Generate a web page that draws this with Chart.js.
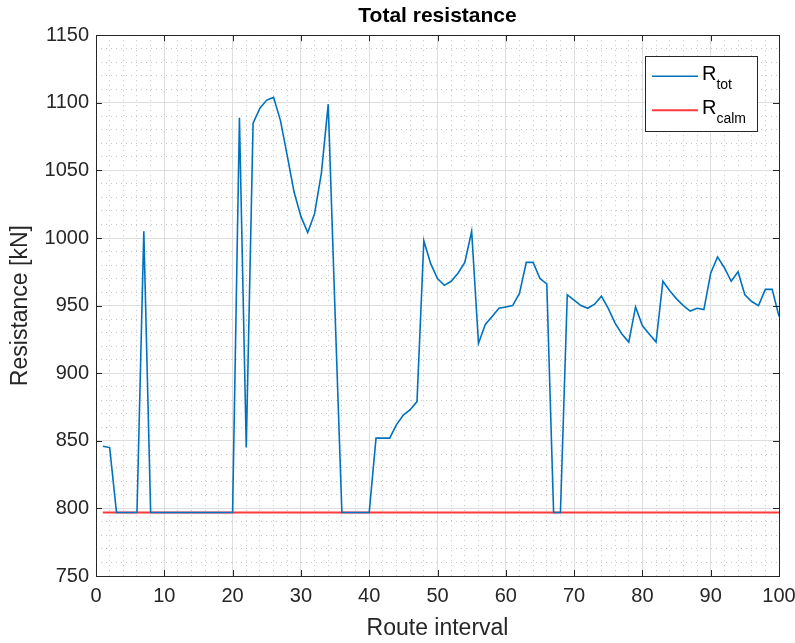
<!DOCTYPE html>
<html>
<head>
  <script src="https://cdn.jsdelivr.net/npm/chart.js"></script>
  <style>
    body { margin: 0; background: #fff; }
    canvas { display: block; }
  </style>
</head>
<body>
  <canvas id="resChart" width="795" height="643"></canvas>

  <script>
    // Route intervals (x) and total resistance
    var routeInterval = [1, 2, 3, 4, 5, 6, 7, 8, 9, 10, 11, 12, 13, 14, 15, 16, 17, 18, 19, 20,
      21, 22, 23, 24, 25, 26, 27, 28, 29, 30, 31, 32, 33, 34, 35, 36, 37, 38, 39, 40,
      41, 42, 43, 44, 45, 46, 47, 48, 49, 50, 51, 52, 53, 54, 55, 56, 57, 58, 59, 60,
      61, 62, 63, 64, 65, 66, 67, 68, 69, 70, 71, 72, 73, 74, 75, 76, 77, 78, 79, 80,
      81, 82, 83, 84, 85, 86, 87, 88, 89, 90, 91, 92, 93, 94, 95, 96, 97, 98, 99, 100];

    var rTot = [846, 845, 797, 797, 797, 797, 1005, 797, 797, 797, 797, 797, 797, 797, 797, 797, 797, 797, 797, 797,
      1089, 845, 1085, 1096, 1102, 1104, 1087, 1061, 1034, 1016, 1004, 1018, 1048, 1099, 945, 797, 797, 797, 797, 797,
      852, 852, 852, 862, 869, 873, 879, 998, 981, 970, 965, 968, 974, 982, 1005, 922, 936, 942, 948, 949,
      950, 959, 982, 982, 970, 966, 797, 797, 958, 954, 950, 948, 951, 957, 948, 937, 929, 923, 949, 935,
      929, 923, 968, 961, 955, 950, 946, 948, 947, 974, 986, 978, 968, 975, 958, 953, 950, 962, 962, 942];

    // Calm water resistance (constant)
    var calmX = [1, 100];
    var rCalm = [797, 797];

    var textColor = '#262626';
    var fontFamily = "'Liberation Sans', Arial, Helvetica, sans-serif";

    function toPoints(xs, ys) {
      return xs.map(function(x, i) { return { x: x, y: ys[i] }; });
    }

    // Box around the axes with inward major ticks, like MATLAB
    var axesBox = {
      id: 'axesBox',
      afterDraw: function(chart) {
        var ctx = chart.ctx;
        var a = chart.chartArea;
        var xs = chart.scales.x, ys = chart.scales.y;
        var tl = 6;
        ctx.save();
        ctx.strokeStyle = textColor;
        ctx.lineWidth = 1;
        ctx.beginPath();
        xs.ticks.forEach(function(t) {
          if (t.value % 10 !== 0) return;
          var px = Math.round(xs.getPixelForValue(t.value)) + 0.5;
          ctx.moveTo(px, a.bottom); ctx.lineTo(px, a.bottom - tl);
          ctx.moveTo(px, a.top); ctx.lineTo(px, a.top + tl);
        });
        ys.ticks.forEach(function(t) {
          if (t.value % 50 !== 0) return;
          var py = Math.round(ys.getPixelForValue(t.value)) + 0.5;
          ctx.moveTo(a.left, py); ctx.lineTo(a.left + tl, py);
          ctx.moveTo(a.right, py); ctx.lineTo(a.right - tl, py);
        });
        ctx.stroke();
        ctx.strokeRect(Math.round(a.left) + 0.5, Math.round(a.top) + 0.5,
          Math.round(a.right - a.left), Math.round(a.bottom - a.top));
        ctx.restore();
      }
    };

    // Legend box with subscripted names (R_tot, R_calm)
    var subLegend = {
      id: 'subLegend',
      afterDraw: function(chart) {
        var ctx = chart.ctx;
        var a = chart.chartArea;
        var w = 112, h = 75;
        var left = a.right - 22 - w;
        var top = a.top + 21;
        ctx.save();
        ctx.fillStyle = '#fff';
        ctx.fillRect(left, top, w, h);
        ctx.strokeStyle = textColor;
        ctx.lineWidth = 1;
        ctx.strokeRect(Math.round(left) + 0.5, Math.round(top) + 0.5, w, h);
        chart.data.datasets.forEach(function(ds, i) {
          var ly = top + 20 + i * 34;
          ctx.strokeStyle = ds.borderColor;
          ctx.lineWidth = ds.borderWidth;
          ctx.beginPath();
          ctx.moveTo(left + 7, ly);
          ctx.lineTo(left + 53, ly);
          ctx.stroke();
          var parts = ds.label.split('_');
          ctx.fillStyle = '#000';
          ctx.textBaseline = 'alphabetic';
          ctx.textAlign = 'left';
          ctx.font = '20px ' + fontFamily;
          ctx.fillText(parts[0], left + 57, ly + 3.5);
          var rw = ctx.measureText(parts[0]).width;
          ctx.font = '14px ' + fontFamily;
          ctx.fillText(parts[1], left + 57 + rw, ly + 13);
        });
        ctx.restore();
      }
    };

    var config = {
      type: 'line',
      data: {
        datasets: [{
          label: 'R_tot',
          data: toPoints(routeInterval, rTot),
          borderColor: '#0072BD',
          borderWidth: 1.6,
          pointRadius: 0,
          tension: 0,
          fill: false
        }, {
          label: 'R_calm',
          data: toPoints(calmX, rCalm),
          borderColor: '#ff3a3a',
          borderWidth: 2,
          pointRadius: 0,
          tension: 0,
          fill: false
        }]
      },
      options: {
        responsive: false,
        animation: false,
        devicePixelRatio: 1,
        layout: { padding: { left: 0, right: 16, top: 0, bottom: 0 } },
        plugins: {
          legend: { display: false },
          tooltip: { enabled: false },
          title: {
            display: true,
            fullSize: false,
            text: 'Total resistance',
            color: '#000',
            font: { family: fontFamily, size: 21, weight: 'bold' },
            padding: { top: 4, bottom: 6 }
          }
        },
        scales: {
          x: {
            type: 'linear',
            min: 0,
            max: 100,
            afterFit: function(s) { s.height = 67; s.paddingLeft = 0; s.paddingRight = 0; },
            ticks: {
              stepSize: 2,
              autoSkip: false,
              maxRotation: 0,
              padding: 8,
              color: textColor,
              font: { family: fontFamily, size: 20 },
              callback: function(v) { return v % 10 === 0 ? String(v) : ''; }
            },
            grid: {
              drawTicks: false,
              color: function(c) { return c.tick && c.tick.value % 10 === 0 ? '#dedede' : '#c4c4c4'; }
            },
            border: {
              display: false,
              dash: function(c) { return c.tick && c.tick.value % 10 !== 0 ? [1, 4] : []; }
            },
            title: {
              display: true,
              text: 'Route interval',
              color: textColor,
              font: { family: fontFamily, size: 23 },
              padding: { top: 0, bottom: 1 }
            }
          },
          y: {
            type: 'linear',
            min: 750,
            max: 1150,
            afterFit: function(s) { s.width = 96; s.paddingTop = 0; s.paddingBottom = 0; },
            ticks: {
              stepSize: 10,
              autoSkip: false,
              padding: 7,
              color: textColor,
              font: { family: fontFamily, size: 20 },
              callback: function(v) { return v % 50 === 0 ? String(v) : ''; }
            },
            grid: {
              drawTicks: false,
              color: function(c) { return c.tick && c.tick.value % 50 === 0 ? '#dedede' : '#c4c4c4'; }
            },
            border: {
              display: false,
              dash: function(c) { return c.tick && c.tick.value % 50 !== 0 ? [1, 4] : []; }
            },
            title: {
              display: true,
              text: 'Resistance [kN]',
              color: textColor,
              font: { family: fontFamily, size: 23 },
              padding: { top: 7, bottom: 0 }
            }
          }
        }
      },
      plugins: [axesBox, subLegend]
    };

    var ctx = document.getElementById('resChart').getContext('2d');
    new Chart(ctx, config);
  </script>
</body>
</html>
